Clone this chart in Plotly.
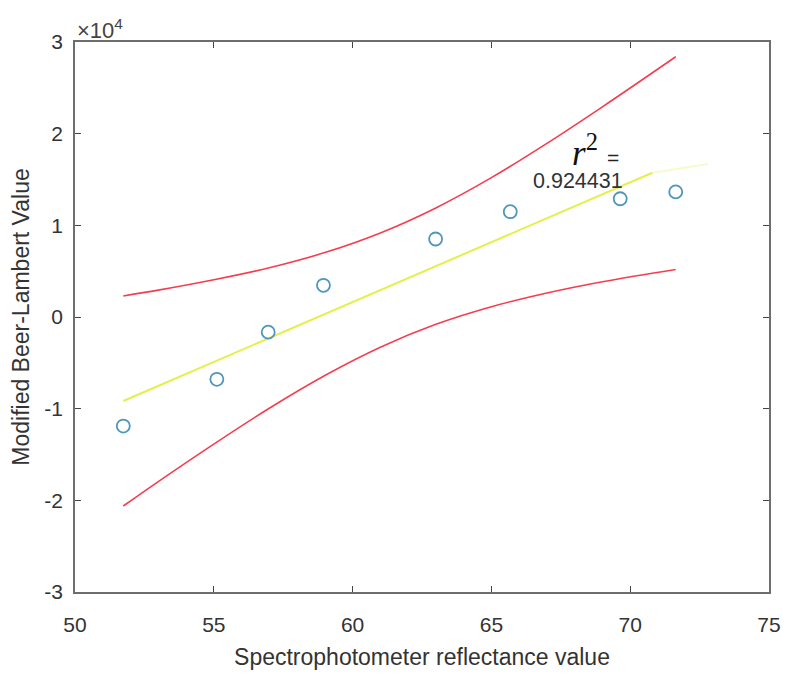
import plotly.graph_objects as go

# Data points
x_pts = [51.74, 55.11, 56.96, 58.95, 62.99, 65.68, 69.64, 71.64]
y_pts = [-11900, -6800, -1650, 3460, 8510, 11490, 12900, 13650]

# Fitted line (bright part and faint extension)
fit_x = [51.74, 70.8]
fit_y = [-9160, 15740]
fit_ext_x = [70.8, 72.8]
fit_ext_y = [15740, 16700]

# Prediction bounds
band_x = [51.74, 53, 55, 57, 59, 61, 63, 65, 67, 69, 71.64]
upper_y = [2300, 2930, 4060, 5370, 7030, 9170, 11900, 15200, 18940, 22930, 28390]
lower_y = [-20620, -17950, -13860, -9950, -6380, -3290, -800, 1120, 2620, 3850, 5190]

x_ticks = [50, 55, 60, 65, 70, 75]
y_ticks = [-30000, -20000, -10000, 0, 10000, 20000, 30000]
y_tick_text = ["-3", "-2", "-1", "0", "1", "2", "3"]

r2_text = "0.924431"

# page body has an 8px margin; plot area target: x 74..772, y 42..592 in the window
OFF = 8
W, H = 793 - OFF, 682 - OFF
L, T, R, B = 74 - OFF, 42 - OFF, 21, 90

fig = go.Figure()
fig.add_trace(go.Scatter(x=band_x, y=upper_y, mode="lines", line_shape="spline",
                         line=dict(color="#f43e50", width=1.6), showlegend=False))
fig.add_trace(go.Scatter(x=band_x, y=lower_y, mode="lines", line_shape="spline",
                         line=dict(color="#f43e50", width=1.6), showlegend=False))
fig.add_trace(go.Scatter(x=fit_ext_x, y=fit_ext_y, mode="lines",
                         line=dict(color="rgba(232,240,90,0.3)", width=2), showlegend=False))
fig.add_trace(go.Scatter(x=fit_x, y=fit_y, mode="lines",
                         line=dict(color="#e4f04a", width=2), showlegend=False))
fig.add_trace(go.Scatter(x=x_pts, y=y_pts, mode="markers",
                         marker=dict(symbol="circle-open", size=13,
                                     color="#4f96bd", line=dict(width=1.8, color="#4f96bd")),
                         showlegend=False))

axis_common = dict(showgrid=False, zeroline=False, showline=True, linecolor="#6e6e6e",
                   linewidth=1.6, mirror="ticks", ticks="inside", ticklen=6,
                   tickcolor="#444444", tickwidth=1.2,
                   tickfont=dict(family="Liberation Sans, Arial", size=21, color="#333333"))

def px_x(px):
    return (px - 74) / 698

def px_y(py):
    return (592 - py) / 550

fig.update_layout(
    width=W, height=H,
    margin=dict(l=L, r=R, t=T, b=B),
    paper_bgcolor="white", plot_bgcolor="white",
    xaxis=dict(range=[50, 75], tickvals=x_ticks, ticktext=[str(v) for v in x_ticks],
               ticklabelstandoff=13,
               title=dict(text="Spectrophotometer reflectance value",
                          font=dict(family="Liberation Sans, Arial", size=23, color="#333333"),
                          standoff=14),
               **axis_common),
    yaxis=dict(range=[-30000, 30000], tickvals=y_ticks, ticktext=y_tick_text,
               ticklabelstandoff=6,
               title=dict(text="Modified Beer-Lambert Value",
                          font=dict(family="Liberation Sans, Arial", size=23, color="#333333"),
                          standoff=8),
               **axis_common),
    annotations=[
        dict(xref="paper", yref="paper", x=0.0, y=1.0, xanchor="left", yanchor="bottom",
             text="×10<sup>4</sup>", showarrow=False, xshift=0, yshift=-3,
             font=dict(family="Liberation Sans, Arial", size=22, color="#444444")),
        dict(xref="paper", yref="paper", x=px_x(587), y=px_y(150),
             text="<i>r</i><sup>2</sup>", showarrow=False, xanchor="center", yanchor="middle",
             font=dict(family="Liberation Serif, Times New Roman", size=35, color="#111111")),
        dict(xref="paper", yref="paper", x=px_x(615), y=px_y(157),
             text="=", showarrow=False, xanchor="center", yanchor="middle",
             font=dict(family="Liberation Sans, Arial", size=21, color="#222222")),
        dict(xref="paper", yref="paper", x=px_x(580), y=px_y(181),
             text=r2_text, showarrow=False, xanchor="center", yanchor="middle",
             font=dict(family="Liberation Sans, Arial", size=21.5, color="#333333")),
    ],
)

fig.write_html("out.html")
